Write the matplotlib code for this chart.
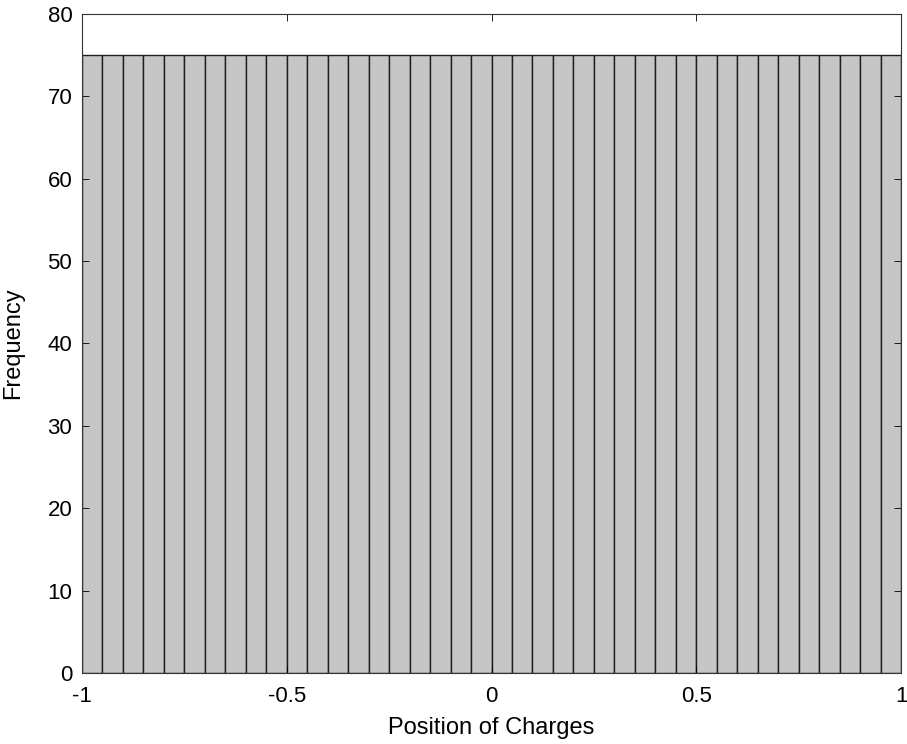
import numpy as np
import matplotlib
matplotlib.use('Agg')
import matplotlib.pyplot as plt

plt.rcParams['font.family'] = ['Liberation Sans', 'DejaVu Sans']
plt.rcParams['axes.unicode_minus'] = False

# histogram data: 40 bins over [-1, 1]
x_min, x_max = -1.0, 1.0
n_bins = 40
counts = [75, 75, 75, 75, 75, 75, 75, 75, 75, 75,
          75, 75, 75, 75, 75, 75, 75, 75, 75, 75,
          75, 75, 75, 75, 75, 75, 75, 75, 75, 75,
          75, 75, 75, 75, 75, 75, 75, 75, 75, 75]
x_ticks = [-1, -0.5, 0, 0.5, 1]
x_ticklabels = ['-1', '-0.5', '0', '0.5', '1']
y_ticks = [0, 10, 20, 30, 40, 50, 60, 70, 80]

edges = np.linspace(x_min, x_max, n_bins + 1)

fig = plt.figure(figsize=(9.07, 7.44), dpi=100)
ax = fig.add_axes([0.0904, 0.0954, 0.903, 0.886])

ax.bar(edges[:-1], counts, width=np.diff(edges), align='edge',
       color='#c6c6c6', edgecolor='#1e1e1e', linewidth=1.0)

ax.set_xlim(x_min, x_max)
ax.set_ylim(0, 80)
ax.set_xticks(x_ticks)
ax.set_xticklabels(x_ticklabels)
ax.set_yticks(y_ticks)
ax.tick_params(direction='in', top=True, right=True, labelsize=16, length=5,
               width=0.6)
ax.tick_params(axis='x', pad=9)
ax.tick_params(axis='y', pad=7)
for s in ax.spines.values():
    s.set_linewidth(0.8)
    s.set_color('#333333')

ax.set_xlabel('Position of Charges', fontsize=17)
ax.set_ylabel('Frequency', fontsize=17)
ax.xaxis.set_label_coords(0.5, -0.066)
ax.yaxis.set_label_coords(-0.071, 0.5)

plt.savefig('out.png', dpi=100)
